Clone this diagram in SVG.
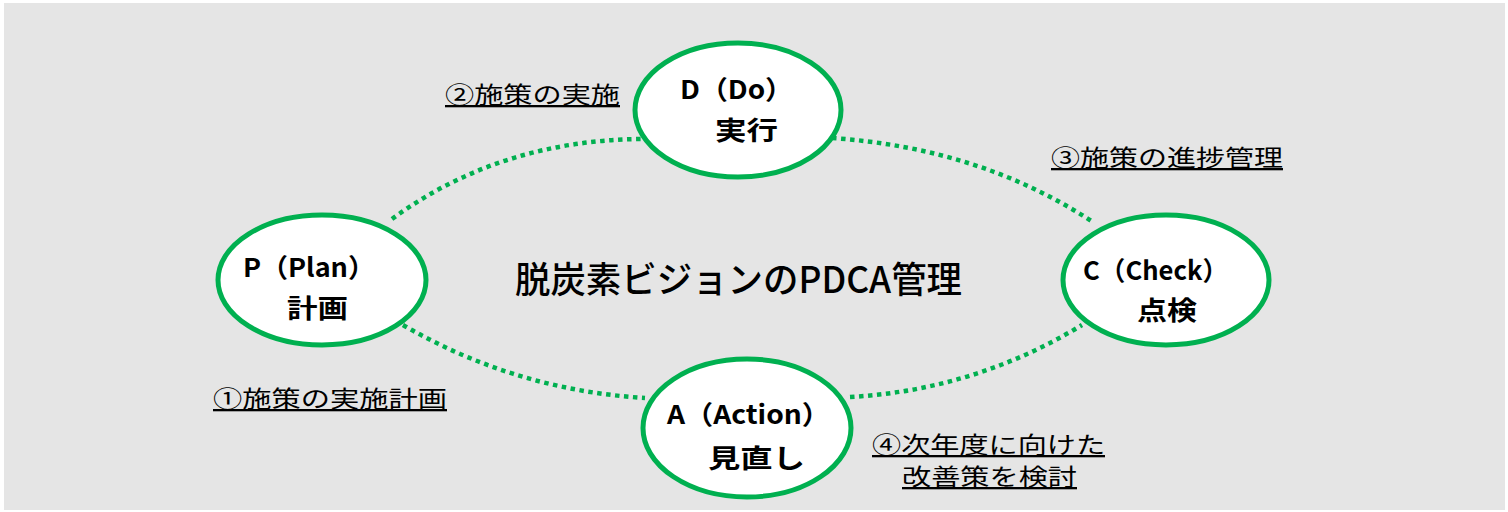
<svg xmlns="http://www.w3.org/2000/svg" width="1508" height="512" viewBox="0 0 1508 512">
  <style>
    .bg { fill: #E5E5E5; }
    .link { fill: none; stroke: #00B050; stroke-width: 4.5; stroke-dasharray: 4.5 4.5; }
    .node ellipse { fill: #FFFFFF; stroke: #00B050; stroke-width: 5; }
    .nt { font-family: "Noto Sans CJK JP", "Noto Sans", sans-serif; font-weight: 700; font-size: 26px; fill: #000000; text-anchor: start; }
    .lbl { font-family: "Noto Sans CJK JP", "Noto Sans", sans-serif; font-weight: 400; font-size: 23px; fill: #000000; text-decoration: underline; }
    .title { font-family: "Noto Sans CJK JP", "Noto Sans", sans-serif; font-weight: 500; font-size: 36px; fill: #000000; }
  </style>
  <rect class="bg" x="4" y="3" width="1501" height="507"/>
  <g id="connectors">
    <path class="link" d="M392,219 Q500,140 643,139"/>
    <path class="link" d="M832,138 Q980,148 1093,222"/>
    <path class="link" d="M403,325 Q515,390 645,398"/>
    <path class="link" d="M850,397 Q975,390 1082,325"/>
  </g>
  <g id="node-D" class="node">
    <ellipse cx="738" cy="110" rx="103" ry="67"/>
    <text class="nt" x="680" y="99" textLength="113" lengthAdjust="spacingAndGlyphs">D（Do）</text>
    <text class="nt" x="715" y="140" textLength="63" lengthAdjust="spacingAndGlyphs">実行</text>
  </g>
  <g id="node-P" class="node">
    <ellipse cx="322" cy="280" rx="104" ry="65"/>
    <text class="nt" x="243" y="277" textLength="132" lengthAdjust="spacingAndGlyphs">P（Plan）</text>
    <text class="nt" x="287" y="318" textLength="61" lengthAdjust="spacingAndGlyphs">計画</text>
  </g>
  <g id="node-C" class="node">
    <ellipse cx="1166" cy="280" rx="103" ry="65"/>
    <text class="nt" x="1083" y="280" textLength="145" lengthAdjust="spacingAndGlyphs">C（Check）</text>
    <text class="nt" x="1137" y="320" textLength="60" lengthAdjust="spacingAndGlyphs">点検</text>
  </g>
  <g id="node-A" class="node">
    <ellipse cx="747" cy="428" rx="104" ry="69"/>
    <text class="nt" x="667" y="424" textLength="163" lengthAdjust="spacingAndGlyphs">A（Action）</text>
    <text class="nt" x="708" y="468" textLength="97" lengthAdjust="spacingAndGlyphs">見直し</text>
  </g>
  <g id="title">
    <text class="title" x="515" y="293" textLength="447" lengthAdjust="spacingAndGlyphs">脱炭素ビジョンのPDCA管理</text>
  </g>
  <g id="labels">
    <text class="lbl" x="445" y="103" textLength="175" lengthAdjust="spacingAndGlyphs">②施策の実施</text>
    <text class="lbl" x="1051" y="166" textLength="232" lengthAdjust="spacingAndGlyphs">③施策の進捗管理</text>
    <text class="lbl" x="213" y="407" textLength="234" lengthAdjust="spacingAndGlyphs">①施策の実施計画</text>
    <text class="lbl" x="872" y="453" textLength="233" lengthAdjust="spacingAndGlyphs">④次年度に向けた</text>
    <text class="lbl" x="902" y="485" textLength="175" lengthAdjust="spacingAndGlyphs">改善策を検討</text>
  </g>
</svg>
